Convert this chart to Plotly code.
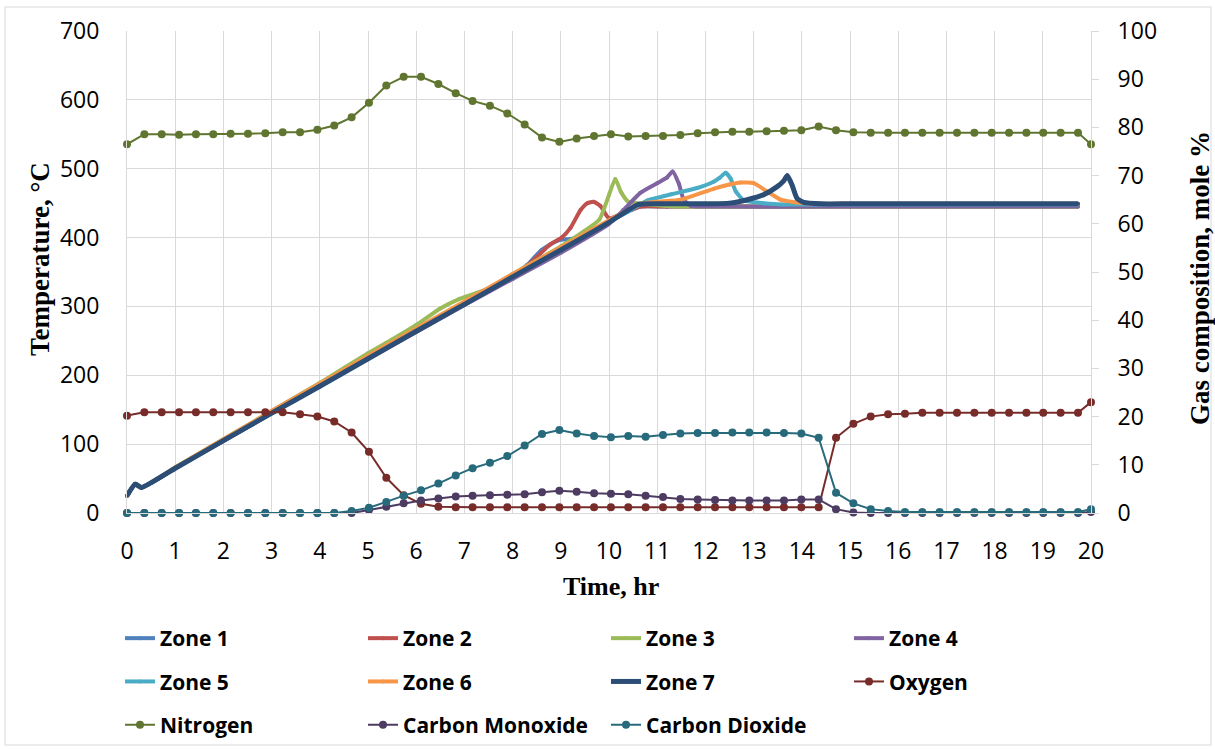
import plotly.graph_objects as go

# ---------------- data ----------------
# zone temperatures (key points)
z1_t = [0, 0.17, 0.3, 1, 2, 3, 4, 5, 6, 7, 8, 8.3, 8.6, 8.95, 9.2, 9.5, 10, 10.65, 11.2, 15, 19.73]
z1_T = [25, 42, 37, 65, 105, 145, 185, 225, 265, 304, 344, 360, 382, 396, 398, 402, 423, 445, 445, 445, 445]

z2_t = [0, 0.17, 0.3, 1, 2, 3, 4, 5, 6, 7, 8, 8.4, 8.78, 9.02, 9.2, 9.41, 9.55, 9.68, 9.82, 10.0, 10.3, 10.65, 11.2, 15, 19.73]
z2_T = [25, 42, 37, 65, 105, 145, 185, 225, 265, 304, 344, 365, 390, 400, 414, 440, 450, 452, 446, 428, 436, 445, 445, 445, 445]

z3_t = [0, 0.17, 0.3, 1, 2, 3, 4, 5, 5.5, 6, 6.5, 6.9, 7.5, 8, 9, 9.5, 9.8, 10.0, 10.13, 10.25, 10.4, 10.7, 11.2, 11.8, 15, 19.73]
z3_T = [25, 42, 37, 66, 107, 148, 189, 232, 252, 273, 297, 311, 326, 347, 387, 410, 426, 462, 485, 466, 452, 449, 446, 445, 445, 445]

z4_t = [0, 0.17, 0.3, 1, 2, 3, 4, 5, 6, 7, 8, 9, 10, 10.3, 10.65, 11.0, 11.2, 11.32, 11.45, 11.55, 11.7, 12.2, 15, 19.73]
z4_T = [25, 42, 37, 65, 105, 145, 184, 224, 263, 302, 340, 378, 420, 440, 465, 479, 487, 496, 478, 455, 446, 445, 445, 445]

z5_t = [0, 0.17, 0.3, 1, 2, 3, 4, 5, 6, 7, 8, 9, 10, 10.65, 10.8, 11.3, 11.83, 12.17, 12.3, 12.42, 12.52, 12.63, 12.8, 13.2, 13.6, 14.2, 16, 19.73]
z5_T = [25, 42, 37, 65, 105, 145, 184, 225, 265, 304, 344, 383, 423, 448, 454, 463, 472, 481, 487, 494, 486, 467, 454, 450, 448, 448, 448, 448]

z6_t = [0, 0.17, 0.3, 1, 2, 3, 4, 5, 6, 7, 8, 9, 10, 10.65, 11.0, 11.49, 12.18, 12.5, 12.73, 13.0, 13.28, 13.56, 13.9, 14.3, 14.8, 16.5, 19.73]
z6_T = [25, 42, 37, 66, 107, 148, 188, 228, 268, 307, 347, 386, 425, 449, 452, 455, 471, 477, 480, 479, 467, 455, 451, 449, 449, 449, 449]

z7_t = [0, 0.17, 0.3, 1, 2, 3, 4, 5, 6, 7, 8, 9, 10, 10.6, 11, 12, 12.5, 12.87, 13.2, 13.49, 13.62, 13.7, 13.8, 13.9, 14.04, 14.4, 15, 17, 19.73]
z7_T = [25, 42, 37, 65, 105, 145, 184, 224, 264, 303, 343, 382, 422, 448, 449, 449, 450, 455, 462, 474, 482, 490, 476, 457, 451, 449, 449, 449, 449]

# gas composition (mole %)
time_gas = [0.00, 0.36, 0.72, 1.08, 1.43, 1.79, 2.15, 2.51, 2.87, 3.23, 3.59, 3.95, 4.30, 4.66,
            5.02, 5.38, 5.74, 6.10, 6.46, 6.82, 7.17, 7.53, 7.89, 8.25, 8.61, 8.97, 9.33, 9.69,
            10.04, 10.40, 10.76, 11.12, 11.48, 11.84, 12.20, 12.56, 12.91, 13.27, 13.63, 13.99,
            14.35, 14.71, 15.07, 15.43, 15.79, 16.14, 16.50, 16.86, 17.22, 17.58, 17.94, 18.30,
            18.66, 19.01, 19.37, 19.73, 20.00]

oxygen = [20.2, 20.9, 20.9, 20.9, 20.9, 20.9, 20.9, 20.9, 20.9, 20.9,
          20.5, 20.0, 19.0, 16.7, 12.7, 7.3, 3.7, 1.9, 1.3,
          1.2, 1.2, 1.2, 1.2, 1.2, 1.2, 1.2, 1.2, 1.2, 1.2, 1.2,
          1.2, 1.2, 1.2, 1.2, 1.2, 1.2, 1.2, 1.2, 1.2, 1.2, 1.2,
          15.6, 18.5, 20.0, 20.5, 20.6,
          20.8, 20.8, 20.8, 20.8, 20.8, 20.8, 20.8, 20.8, 20.8, 20.8,
          23.0]

nitrogen = [76.5, 78.6, 78.6, 78.5, 78.6, 78.6, 78.7, 78.7, 78.8, 79.0, 79.0, 79.5, 80.4, 82.1,
            85.1, 88.7, 90.5, 90.5, 89.0, 87.1, 85.5, 84.5, 82.9, 80.6, 77.9, 77.0, 77.7, 78.2,
            78.6, 78.1, 78.2, 78.2, 78.4, 78.8, 79.0, 79.1, 79.1, 79.2, 79.3, 79.4, 80.2, 79.4,
            79.0, 78.9, 78.9, 78.9, 78.9, 78.9, 78.9, 78.9, 78.9, 78.9, 78.9, 78.9, 78.9, 78.9,
            76.5]

carbon_monoxide = [0, 0, 0, 0, 0, 0, 0, 0, 0, 0, 0, 0, 0, 0,
                   0.6, 1.3, 2.0, 2.6, 3.0, 3.4, 3.6, 3.7, 3.8, 3.9, 4.3, 4.6, 4.4, 4.1,
                   4.0, 3.9, 3.6, 3.3, 2.9, 2.8, 2.7, 2.6, 2.6, 2.6, 2.6, 2.8, 2.8, 0.8, 0.1,
                   0, 0, 0, 0, 0, 0, 0, 0, 0, 0, 0, 0, 0, 0.2]

carbon_dioxide = [0, 0, 0, 0, 0, 0, 0, 0, 0, 0, 0, 0, 0,
                  0.4, 1.1, 2.3, 3.6, 4.7, 6.1, 7.8, 9.3, 10.4, 11.8, 14.0, 16.4, 17.2, 16.5,
                  16.0, 15.7, 16.0, 15.8, 16.2, 16.5, 16.6, 16.6, 16.7, 16.7, 16.7, 16.6, 16.5,
                  15.6, 4.2, 2.0, 0.8, 0.4,
                  0.2, 0.2, 0.2, 0.2, 0.2, 0.2, 0.2, 0.2, 0.2, 0.2, 0.2,
                  0.8]

x_ticks = list(range(0, 21))
y_ticks = list(range(0, 701, 100))
y2_ticks = list(range(0, 101, 10))

# ---------------- figure ----------------
W, H = 1215, 749
L, R, T, B = 127, 1091, 31, 513
pw, ph = R - L, B - T


def px(x):
    return (x - L) / pw


def py(y):
    return (B - y) / ph


fig = go.Figure()

zones = [
    ("Zone 1", z1_t, z1_T, "#4F81BD", 4, "legend"),
    ("Zone 2", z2_t, z2_T, "#C0504D", 4, "legend2"),
    ("Zone 3", z3_t, z3_T, "#9BBB59", 4, "legend3"),
    ("Zone 4", z4_t, z4_T, "#8064A2", 4, "legend4"),
    ("Zone 5", z5_t, z5_T, "#4BACC6", 4, "legend"),
    ("Zone 6", z6_t, z6_T, "#F79646", 4, "legend2"),
    ("Zone 7", z7_t, z7_T, "#2C4D75", 5, "legend3"),
]
for name, t, v, c, w, lg in zones:
    fig.add_trace(go.Scatter(
        x=t, y=v, name=name, mode="lines+markers",
        line=dict(color=c, width=w, shape="spline", smoothing=0.5),
        marker=dict(color=c, size=4),
        legend=lg, legendgroup=name, cliponaxis=False))

gases = [
    ("Oxygen", oxygen, "#772C2A", "legend4"),
    ("Nitrogen", nitrogen, "#5F7530", "legend"),
    ("Carbon Monoxide", carbon_monoxide, "#4D3B62", "legend2"),
    ("Carbon Dioxide", carbon_dioxide, "#276A7C", "legend3"),
]
for name, v, c, lg in gases:
    fig.add_trace(go.Scatter(
        x=time_gas, y=v, name=name, mode="lines+markers", yaxis="y2",
        line=dict(color=c, width=2),
        marker=dict(color=c, size=8),
        legend=lg, legendgroup=name, cliponaxis=False))

grid = "#D9D9D9"
tickfont = dict(family="Open Sans", size=23, color="#000000")

legend_common = dict(
    orientation="v", yanchor="top", xanchor="left",
    font=dict(family="Open Sans", size=21, color="#000000", weight="bold"),
    bgcolor="rgba(0,0,0,0)", tracegroupgap=13, traceorder="grouped",
    itemwidth=30,
)
ly = py(618)
fig.update_layout(
    width=W, height=H,
    margin=dict(l=L, r=W - R, t=T, b=H - B, autoexpand=False),
    paper_bgcolor="white", plot_bgcolor="white",
    showlegend=True,
    xaxis=dict(range=[0, 20], tickvals=x_ticks, showgrid=True, gridcolor=grid, gridwidth=1,
               zeroline=False, showline=True, linecolor=grid, ticks="", tickfont=tickfont,
               ticklabelstandoff=17),
    yaxis=dict(range=[0, 700], tickvals=y_ticks, showgrid=True, gridcolor=grid, gridwidth=1,
               zeroline=False, showline=True, linecolor=grid, ticks="", tickfont=tickfont,
               ticklabelstandoff=22),
    yaxis2=dict(range=[0, 100], tickvals=y2_ticks, overlaying="y", side="right",
                showgrid=False, zeroline=False, showline=True, linecolor=grid,
                ticks="outside", ticklen=7, tickcolor=grid, tickfont=tickfont,
                ticklabelstandoff=14),
    legend=dict(x=px(120), y=ly, **legend_common),
    legend2=dict(x=px(363), y=ly, **legend_common),
    legend3=dict(x=px(606), y=ly, **legend_common),
    legend4=dict(x=px(849), y=ly, **legend_common),
)

title_font = dict(family="Liberation Serif", size=27, color="#000000", weight="bold")
fig.add_annotation(text="Temperature, °C", xref="paper", yref="paper",
                   x=px(40), y=py(259), textangle=-90, showarrow=False,
                   font=title_font, xanchor="center", yanchor="middle")
fig.add_annotation(text="Gas composition, mole %", xref="paper", yref="paper",
                   x=px(1200), y=py(278), textangle=-90, showarrow=False,
                   font=title_font, xanchor="center", yanchor="middle")
fig.add_annotation(text="Time, hr", xref="paper", yref="paper",
                   x=px(611), y=py(586), showarrow=False,
                   font=dict(family="Liberation Serif", size=26, color="#000000", weight="bold"),
                   xanchor="center", yanchor="middle")

# outer chart border
fig.add_shape(type="rect", xref="paper", yref="paper",
              x0=px(5), x1=px(1211), y0=py(745), y1=py(7),
              line=dict(color="#D9D9D9", width=1), fillcolor="rgba(0,0,0,0)", layer="below")

fig.write_html("out.html", config={"displayModeBar": False},
               post_script="document.body.style.margin='0px';document.body.style.overflow='hidden';")
